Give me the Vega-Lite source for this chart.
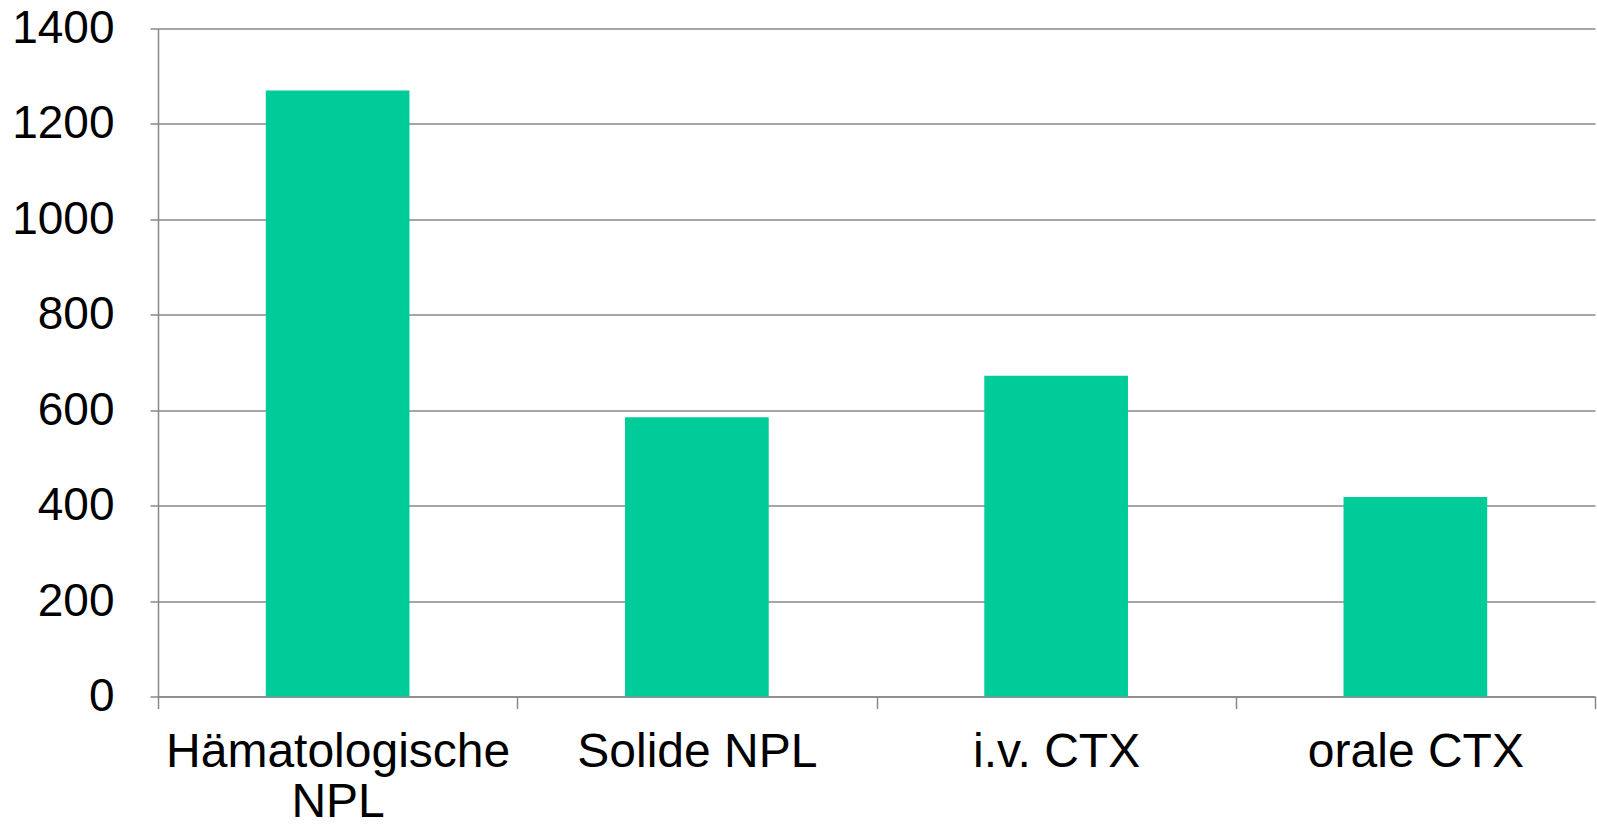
{
  "$schema": "https://vega.github.io/schema/vega-lite/v6.json",
  "autosize": "none",
  "width": 1437,
  "height": 668,
  "padding": {"left": 158, "top": 28.5, "right": 2, "bottom": 129},
  "background": "white",
  "data": {"values": [
    {"cat": "Hämatologische NPL", "value": 1270},
    {"cat": "Solide NPL", "value": 585},
    {"cat": "i.v. CTX", "value": 672},
    {"cat": "orale CTX", "value": 418}
  ]},
  "mark": {"type": "bar", "color": "#00CC99", "width": {"band": 0.4}},
  "encoding": {
    "x": {
      "field": "cat", "type": "nominal", "sort": null,
      "scale": {"paddingInner": 0, "paddingOuter": 0},
      "axis": {
        "title": null, "labelAngle": 0, "labelLimit": 1000,
        "labelFont": "Liberation Sans", "labelFontSize": 48, "labelColor": "black",
        "labelExpr": "datum.label == 'Hämatologische NPL' ? ['Hämatologische', 'NPL'] : datum.label",
        "labelLineHeight": 50,
        "labelPadding": 20,
        "tickBand": "extent", "tickSize": 12, "tickColor": "#888888",
        "domainColor": "#888888", "domainWidth": 1.5, "tickWidth": 1.5,
        "grid": false
      }
    },
    "y": {
      "field": "value", "type": "quantitative",
      "scale": {"domain": [0, 1400]},
      "axis": {
        "title": null, "values": [0, 200, 400, 600, 800, 1000, 1200, 1400], "format": "d",
        "labelFont": "Liberation Sans", "labelFontSize": 46, "labelColor": "black",
        "labelPadding": 36, "tickSize": 8, "tickColor": "#888888",
        "domainColor": "#888888", "domainWidth": 1.5, "tickWidth": 1.5,
        "grid": true, "gridColor": "#888888", "gridWidth": 1.5
      }
    }
  },
  "config": {"view": {"stroke": null}}
}
